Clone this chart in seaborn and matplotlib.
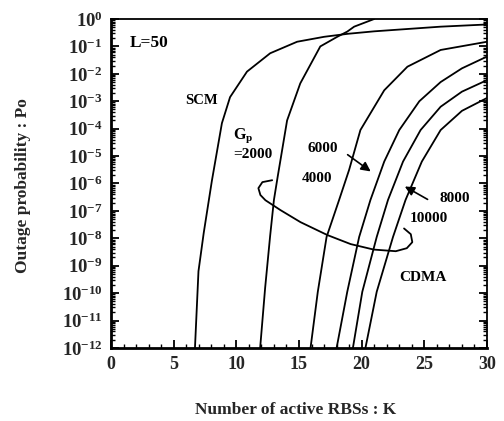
import numpy as np
import pandas as pd
import matplotlib
matplotlib.use('Agg')
import matplotlib.pyplot as plt
import seaborn as sns

# === Data ===
# K = number of active RBSs, values are log10(Po)
scm_k = [6.7, 6.98, 7.4, 8.05, 8.85, 9.5, 10.85, 12.7, 14.85, 17.0, 18.9, 21.0, 26.3, 30.0]
scm_logp = [-12, -9.2, -7.8, -5.9, -3.8, -2.85, -1.92, -1.25, -0.83, -0.65, -0.54, -0.45, -0.28, -0.2]

gp2000_k = [11.9, 12.3, 12.7, 13.0, 13.3, 14.05, 15.1, 16.7, 18.05, 18.85, 19.4, 21.0]
gp2000_logp = [-12, -9.8, -7.9, -6.6, -5.75, -3.7, -2.35, -1.0, -0.65, -0.46, -0.28, 0.0]

gp4000_k = [15.92, 16.5, 17.2, 18.2, 19.0, 19.9, 21.8, 23.65, 26.3, 30.0]
gp4000_logp = [-12, -9.95, -7.95, -6.6, -5.5, -4.05, -2.6, -1.74, -1.13, -0.83]

gp6000_k = [18.0, 18.85, 19.8, 20.7, 21.8, 23.0, 24.6, 26.3, 28.0, 30.0]
gp6000_logp = [-12, -9.95, -7.95, -6.6, -5.2, -4.05, -3.0, -2.3, -1.8, -1.37]

gp8000_k = [19.3, 20.05, 21.2, 22.1, 23.3, 24.7, 26.3, 28.0, 30.0]
gp8000_logp = [-12, -9.95, -7.95, -6.6, -5.2, -4.05, -3.2, -2.65, -2.23]

gp10000_k = [20.3, 21.2, 22.5, 23.5, 24.8, 26.3, 28.0, 30.0]
gp10000_logp = [-12, -9.95, -7.95, -6.6, -5.2, -4.05, -3.35, -2.88]

# lasso loop grouping the CDMA curves
loop_k = [12.86, 12.08, 11.76, 11.92, 12.32, 13.52, 15.12, 17.26, 19.12, 20.96, 22.72, 23.6, 24.04, 23.92, 23.38]
loop_logp = [-5.88, -5.95, -6.17, -6.42, -6.61, -6.97, -7.41, -7.88, -8.21, -8.41, -8.47, -8.36, -8.14, -7.85, -7.64]

ytick_exp = list(range(-12, 1))
xtick_vals = [0, 5, 10, 15, 20, 25, 30]

curves = {
    'SCM': (scm_k, scm_logp),
    '2000': (gp2000_k, gp2000_logp),
    '4000': (gp4000_k, gp4000_logp),
    '6000': (gp6000_k, gp6000_logp),
    '8000': (gp8000_k, gp8000_logp),
    '10000': (gp10000_k, gp10000_logp),
}

# === Style ===
sns.set_style('ticks')
plt.rcParams['font.family'] = ['Liberation Serif', 'DejaVu Serif']
plt.rcParams['font.weight'] = 'bold'
plt.rcParams['mathtext.fontset'] = 'custom'
plt.rcParams['mathtext.rm'] = 'Liberation Serif:bold'
plt.rcParams['mathtext.bf'] = 'Liberation Serif:bold'
plt.rcParams['mathtext.it'] = 'Liberation Serif:italic:bold'

fig = plt.figure(figsize=(5.04, 4.21), dpi=100)
ax = fig.add_axes([0.2202, 0.1734, 0.7461, 0.7815])

# === Curves ===
for name, (k, lp) in curves.items():
    df = pd.DataFrame({'K': k, 'Po': np.power(10.0, lp)})
    sns.lineplot(data=df, x='K', y='Po', sort=False, color='black', lw=1.3, ax=ax)

loop_df = pd.DataFrame({'K': loop_k, 'Po': np.power(10.0, loop_logp)})
sns.lineplot(data=loop_df, x='K', y='Po', sort=False, color='black', lw=1.3, ax=ax)

ax.set_yscale('log')
ax.set_xlim(0, 30)
ax.set_ylim(1e-12, 1)

# === Ticks ===
ax.set_yticks([10.0 ** e for e in ytick_exp])
ax.set_yticklabels([r'$\mathbf{10^{%d}}$' % e for e in ytick_exp], fontsize=13.5)
ax.yaxis.set_minor_locator(matplotlib.ticker.LogLocator(base=10, subs=np.arange(2, 10), numticks=20))
ax.yaxis.set_minor_formatter(matplotlib.ticker.NullFormatter())
ax.set_xticks(xtick_vals)
ax.set_xticklabels([str(v) for v in xtick_vals], fontsize=13, fontweight='bold')
ax.xaxis.set_minor_locator(matplotlib.ticker.MultipleLocator(1))
ax.tick_params(axis='both', which='major', direction='in', length=6, width=1.3, color='black', pad=6)
ax.tick_params(axis='both', which='minor', direction='in', length=3, width=1.0, color='black')
ax.tick_params(axis='y', which='both', right=True)

for side in ['top', 'right']:
    ax.spines[side].set_visible(True)
    ax.spines[side].set_linewidth(1.3)
for side in ['left', 'bottom']:
    ax.spines[side].set_linewidth(2.0)
for sp in ax.spines.values():
    sp.set_color('black')

# === Labels ===
ax.set_xlabel('Number of active RBSs : K', fontsize=12.5, fontweight='bold')
ax.set_ylabel('Outage probability : Po', fontsize=12.5, fontweight='bold')
ax.xaxis.set_label_coords(0.49, -0.163)
ax.yaxis.set_label_coords(-0.212, 0.495)

# === Annotations ===
txt = dict(fontweight='bold', color='black')
ax.text(1.5, 10 ** -0.88, 'L=50', fontsize=12.5, ha='left', va='center', **txt)
ax.text(7.2, 10 ** -2.96, 'SCM', fontsize=10.5, ha='center', va='center', **txt)
ax.text(9.75, 10 ** -4.25, r'$\mathbf{G_p}$', fontsize=11.5, ha='left', va='center', **txt)
ax.text(9.75, 10 ** -4.93, '=2000', fontsize=11, ha='left', va='center', **txt)
ax.text(16.9, 10 ** -4.71, '6000', fontsize=11, ha='center', va='center', **txt)
ax.text(16.4, 10 ** -5.8, '4000', fontsize=11, ha='center', va='center', **txt)
ax.text(27.4, 10 ** -6.53, '8000', fontsize=11, ha='center', va='center', **txt)
ax.text(25.4, 10 ** -7.26, '10000', fontsize=11, ha='center', va='center', **txt)
ax.text(24.9, 10 ** -9.42, 'CDMA', fontsize=11, ha='center', va='center', **txt)

arrow = dict(arrowstyle='-|>', color='black', lw=1.2, mutation_scale=14)
ax.annotate('', xy=(20.9, 10 ** -5.62), xytext=(18.7, 10 ** -4.89), arrowprops=arrow)
ax.annotate('', xy=(23.25, 10 ** -6.06), xytext=(25.45, 10 ** -6.63), arrowprops=arrow)

plt.savefig('out.png', dpi=100)
